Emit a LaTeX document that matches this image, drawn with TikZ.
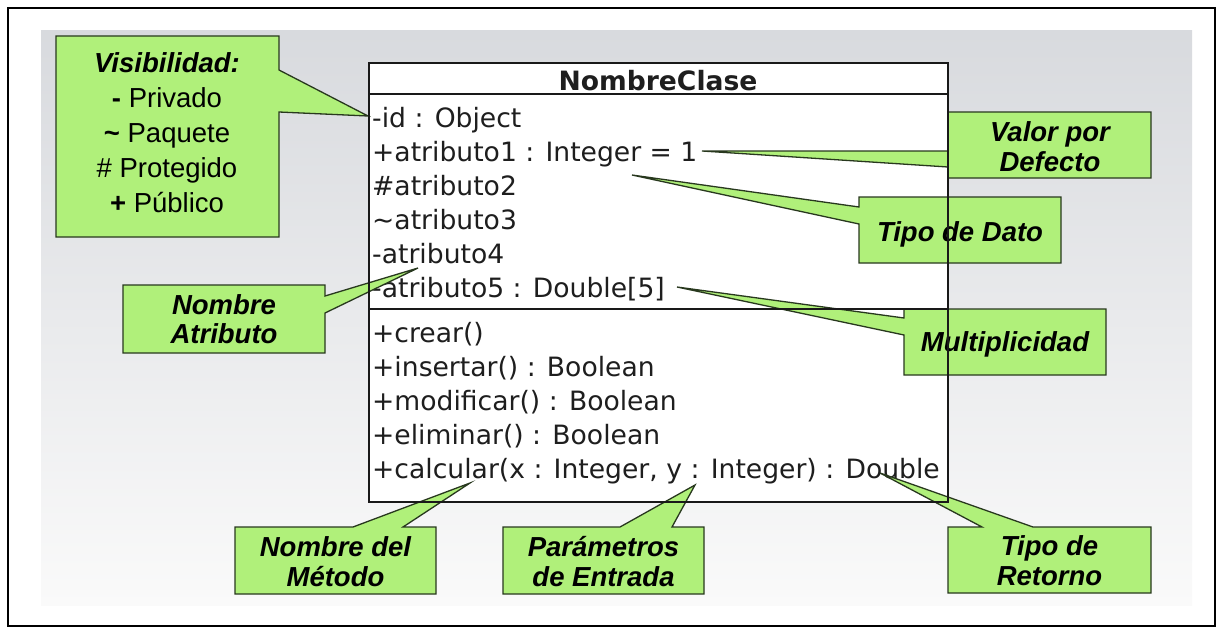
\documentclass[tikz,border=0pt]{standalone}
\usepackage{fontspec}
\newfontfamily\umlfont{DejaVu Sans}
\newfontfamily\notefont{Liberation Sans}

\definecolor{notegreen}{RGB}{176,240,122}
\definecolor{noteline}{RGB}{40,56,30}
\definecolor{bgtop}{RGB}{216,218,222}
\definecolor{bgmid}{RGB}{240,241,243}
\definecolor{bgbot}{RGB}{250,250,250}
\definecolor{umltext}{RGB}{30,30,30}

\tikzset{
  callout/.style={fill=notegreen, draw=noteline, line width=1.3pt, line join=miter},
  notetext/.style={font=\notefont\bfseries\itshape\fontsize{27.5}{30}\selectfont,
                   align=center, inner sep=0pt, text=black},
  notelist/.style={font=\notefont\fontsize{27.5}{35}\selectfont,
                   align=center, inner sep=0pt, text=black},
  member/.style={font=\umlfont\fontsize{26.6}{34}\selectfont,
                 anchor=base west, inner sep=0pt, text=umltext},
  classline/.style={draw=black!90, line width=2pt},
}

\begin{document}
\begin{tikzpicture}[x=1pt,y=-1pt]
\useasboundingbox (0,0) rectangle (1223,634);
\fill[white] (0,0) rectangle (1223,634);
\shade[top color=bgtop, middle color=bgmid, bottom color=bgbot] (41,31) rectangle (1192,605);
\draw[line width=2.5pt] (8,8) rectangle (1215,626);

% class body
\fill[white] (369,63) rectangle (948,502);
\node[font=\umlfont\bfseries\fontsize{26.6}{34}\selectfont, anchor=base, inner sep=0pt, text=umltext]
  (title) at (658,90) {NombreClase};
\node[member] (a0) at (372,127) {-id : Object};
\node[member] (a1) at (372,161) {+atributo1 : Integer = 1};
\node[member] (a2) at (372,195) {\#atributo2};
\node[member] (a3) at (372,229) {\textasciitilde atributo3};
\node[member] (a4) at (372,263) {-atributo4};
\node[member] (a5) at (372,297) {-atributo5 : Double[5]};
\node[member] (m1) at (372,342) {+crear()};
\node[member] (m2) at (372,376) {+insertar() : Boolean};
\node[member] (m3) at (372,410) {+modificar() : Boolean};
\node[member] (m4) at (372,444) {+eliminar() : Boolean};
\node[member] (m5) at (372,478) {+calcular(x : Integer, y : Integer) : Double};

% points the notes refer to
\coordinate (tipVis)  at (368,116);
\coordinate (tipName) at (418,268);
\coordinate (tipDef)  at (702,151);
\coordinate (tipType) at (632,175);
\coordinate (tipMult) at (677,287);
\coordinate (tipMeth) at (470,483);
\coordinate (tipPar)  at (695,485);
\coordinate (tipRet)  at (880,473);

% notes with pointers
\filldraw[callout] (56,36) -- (279,36) -- (279,70) -- (tipVis) -- (279,112)
  -- (279,237) -- (56,237) -- cycle;
\filldraw[callout] (123,285) -- (325,285) -- (325,296) -- (tipName) -- (325,313)
  -- (325,353) -- (123,353) -- cycle;
\filldraw[callout] (948,112) -- (1151,112) -- (1151,178) -- (948,178) -- (948,167)
  -- (tipDef) -- (948,151) -- cycle;
\filldraw[callout] (859,197) -- (1061,197) -- (1061,263) -- (859,263) -- (859,224)
  -- (tipType) -- (859,207) -- cycle;
\filldraw[callout] (904,309) -- (1106,309) -- (1106,375) -- (904,375) -- (904,335)
  -- (tipMult) -- (904,318) -- cycle;
\filldraw[callout] (235,527) -- (353,527) -- (tipMeth) -- (403,527) -- (436,527)
  -- (436,594) -- (235,594) -- cycle;
\filldraw[callout] (503,527) -- (620,527) -- (tipPar) -- (672,527) -- (704,527)
  -- (704,594) -- (503,594) -- cycle;
\filldraw[callout] (948,527) -- (982,527) -- (tipRet) -- (1033,527) -- (1151,527)
  -- (1151,593) -- (948,593) -- cycle;

\node[notelist] (vis) at (167,132.5)
  {{\bfseries\itshape Visibilidad:}\\ {\bfseries -} Privado\\
   {\bfseries\textasciitilde} Paquete\\ \# Protegido\\ {\bfseries +} Público};
\node[notetext, font=\notefont\bfseries\itshape\fontsize{27.5}{29}\selectfont]
  (nattr) at (224,319) {Nombre\\Atributo};
\node[notetext] (ndef)  at (1050,147) {Valor por\\Defecto};
\node[notetext] (ntype) at (960,234) {Tipo de Dato};
\node[notetext] (nmult) at (1005,344) {Multiplicidad};
\node[notetext] (nmeth) at (335.5,562) {Nombre del\\Método};
\node[notetext] (npar)  at (603.5,562) {Parámetros\\de Entrada};
\node[notetext] (nret)  at (1049.5,561) {Tipo de\\Retorno};

% class outline and compartments
\draw[classline] (369,63) rectangle (948,502);
\draw[classline] (369,94) -- (948,94);
\draw[classline] (369,309) -- (948,309);
\end{tikzpicture}
\end{document}
